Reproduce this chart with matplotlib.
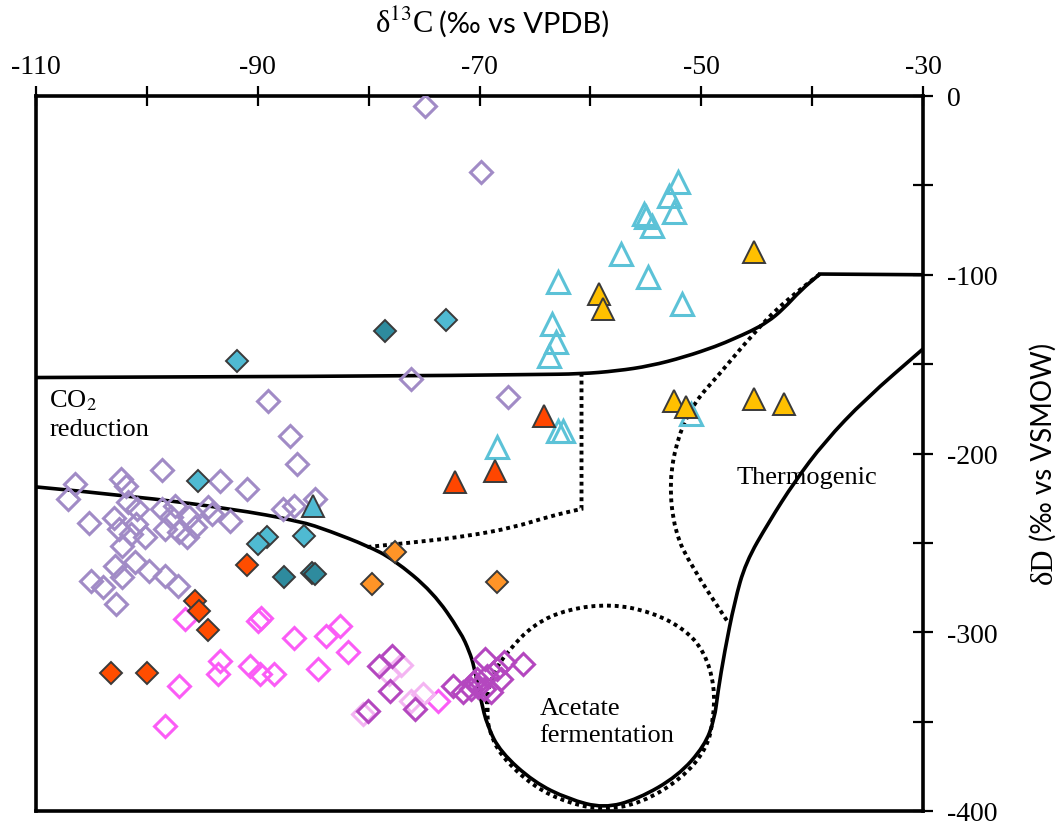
import matplotlib.pyplot as plt
from matplotlib.path import Path
from matplotlib.patches import PathPatch

plt.rcParams['font.family'] = ['Liberation Serif', 'DejaVu Serif']
plt.rcParams['mathtext.fontset'] = 'stix'

# ---- field boundaries (d13C, dD) ----
top_x = [-110, -80, -65, -60.9, -57.6, -54.6, -51.5, -48.6, -47.1, -45.5, -44.0, -42.6, -41.0, -39.3]
top_y = [-157.5, -156.8, -155.8, -155.5, -153.8, -151.0, -146.0, -139.9, -135.9, -131.5, -126.4, -119.2, -108.5, -99.6]
shelf_x = [-39.3, -30]
shelf_y = [-99.6, -100]

low_x = [-110, -101.3, -92.3, -86.2, -83.5, -80.1, -77.8, -74.2, -71.7, -70.9, -70.5, -69.9, -69.3,
         -68.1, -65.1, -62.0, -58.8, -55.7, -52.1, -49.7, -48.8, -48.5, -47.9, -47.0, -46.0, -43.9, -41.6,
         -38.9, -35.2, -30]
low_y = [-218.7, -223.8, -231.0, -237.8, -243.4, -251.7, -259.0, -277.5, -299.9, -311.0, -318.9, -337.3, -352.4,
         -367.0, -383.8, -393.3, -398.5, -393.3, -380.4, -363.6, -348.5, -333.4, -311.0, -283.1, -261.0, -238.3, -215.9,
         -193.6, -169.5, -141.5]

co2_dot_x = [-80.1, -75.5, -71.1, -67.0, -63.6, -60.8, -60.8, -60.8]
co2_dot_y = [-252.3, -249.5, -246.2, -241.5, -235.0, -231.0, -231.0, -155.5]

acet_dot_x = [-69.3, -69.3, -68.7, -67.5, -65.1, -62.0, -58.1, -54.5, -51.5, -49.7, -48.8, -48.9, -49.5, -51.8,
              -55.4, -58.8, -62.0, -65.1, -68.1, -69.2, -69.3, -69.3]
acet_dot_y = [-344.6, -333.4, -322.2, -311.0, -295.4, -287.0, -284.2, -288.7, -298.2, -311.0, -330.1, -348.5, -365.3, -382.1,
              -395.5, -399.5, -395.5, -386.5, -369.2, -354.1, -344.6, -333.4]

thermo_dot_x = [-39.3, -42.6, -45.5, -48.5, -50.6, -52.1, -52.9, -52.4, -50.9, -47.6]
thermo_dot_y = [-99.6, -115.2, -134.3, -156.6, -171.2, -190.2, -215.9, -243.9, -262.9, -294.3]

# ---- samples ----
lav_x = [-74.9, -69.9, -76.2, -89.1, -67.4, -87.1, -86.5, -106.5, -107.1, -102.3, -101.9, -98.6, -93.4, -91.0,
         -101.7, -100.9, -105.2, -103.0, -102.5, -101.0, -101.4, -100.2, -102.2, -98.6, -97.5, -97.8, -98.4, -97.1,
         -96.2, -95.7, -96.4, -94.5, -94.1, -92.5, -102.9, -101.1, -102.2, -99.8, -98.4, -97.2, -105.0, -104.0,
         -102.8, -87.7, -86.7, -84.8]
lav_y = [-5.6, -42.5, -158.3, -170.6, -168.4, -190.2, -205.9, -217.1, -225.5, -214.3, -218.2, -209.2, -215.4, -219.9,
         -227.1, -231.0, -238.9, -236.1, -242.2, -239.4, -245.0, -246.7, -251.7, -231.0, -229.4, -235.5, -242.2, -243.9,
         -235.5, -241.1, -246.7, -229.9, -233.8, -237.8, -262.9, -260.7, -269.1, -265.7, -268.5, -274.1, -271.3, -274.7,
         -284.2, -231.0, -229.4, -225.5]

mag_x = [-96.6, -93.4, -93.6, -97.1, -98.4, -90.0, -89.7, -90.7, -89.8, -88.5, -86.7, -84.6, -83.8, -82.6, -81.9, -73.7]
mag_y = [-292.6, -316.1, -323.4, -330.1, -352.4, -293.7, -292.0, -318.9, -323.4, -323.4, -303.2, -320.6, -302.1, -296.5, -311.0, -338.5]

orchid_x = [-79.1, -77.9, -78.1, -80.1, -75.8, -72.4, -71.5, -70.5, -70.2, -69.5, -69.3, -68.4, -69.0, -68.1,
            -69.6, -66.1, -67.8, -70.1, -70.8]
orchid_y = [-318.9, -313.3, -332.9, -344.1, -343.0, -330.1, -333.4, -327.8, -326.2, -315.0, -324.5, -320.6, -333.4, -326.2,
            -331.7, -317.8, -316.6, -330.6, -331.7]

pink_x = [-77.1, -78.2, -80.5, -76.2, -75.1]
pink_y = [-318.3, -323.4, -345.7, -338.5, -334.6]

teal_x = [-91.9, -73.0, -95.4, -89.2, -90.0, -85.8]
teal_y = [-148.3, -125.3, -215.4, -246.7, -250.6, -246.2]

dteal_x = [-78.5, -87.6, -85.1, -84.8]
dteal_y = [-131.5, -269.1, -266.9, -267.4]

red_d_x = [-91.0, -95.7, -95.3, -94.5, -103.2, -100.0]
red_d_y = [-262.4, -282.5, -288.1, -298.7, -322.8, -322.8]

orange_x = [-77.6, -79.7, -68.4]
orange_y = [-255.1, -273.0, -271.9]

cyan_x = [-52.1, -52.9, -52.5, -55.2, -55.0, -54.4, -57.2, -54.8, -62.9, -51.7, -63.5, -63.1, -63.7, -62.9, -62.5,
          -50.9, -68.4]
cyan_y = [-48.1, -55.9, -64.9, -66.0, -67.7, -72.7, -88.4, -101.3, -104.1, -116.4, -127.6, -137.6, -145.5, -187.4, -187.4,
          -177.9, -196.4]

gold_x = [-45.2, -59.2, -58.9, -52.5, -51.4, -45.2, -42.5]
gold_y = [-87.3, -110.8, -119.2, -170.6, -174.0, -169.5, -172.3]

red_t_x = [-64.2, -72.2, -68.6]
red_t_y = [-179.0, -215.9, -209.8]

teal_t_x = [-85.0]
teal_t_y = [-229.4]

xticks = list(range(-110, -29, 10))
xtick_labels = ['-110', '', '-90', '', '-70', '', '-50', '', '-30']
yticks = list(range(-400, 1, 50))
ytick_labels = ['-400', '', '-300', '', '-200', '', '-100', '', '0']

fig = plt.figure(figsize=(10.59, 8.29), dpi=100)
ax = fig.add_axes([36 / 1059, 17 / 829, 887 / 1059, 715 / 829])


def smooth_line(xs, ys, **kw):
    # quadratic bezier through the midpoints, read points act as control points
    pts = list(zip(xs, ys))
    verts = [pts[0]]
    codes = [Path.MOVETO]
    for i in range(1, len(pts) - 1):
        mid = ((pts[i][0] + pts[i + 1][0]) / 2, (pts[i][1] + pts[i + 1][1]) / 2)
        verts += [pts[i], mid]
        codes += [Path.CURVE3, Path.CURVE3]
    verts.append(pts[-1])
    codes.append(Path.LINETO)
    ax.add_patch(PathPatch(Path(verts, codes), fill=False, **kw))


solid = dict(edgecolor='black', lw=2.6, zorder=2)
dot = dict(edgecolor='black', lw=2.8, linestyle=(0, (1, 1)), capstyle='butt', zorder=2)
smooth_line(top_x, top_y, **solid)
ax.plot(shelf_x, shelf_y, color='black', lw=2.6, zorder=2)
smooth_line(low_x, low_y, **solid)
smooth_line(co2_dot_x, co2_dot_y, **dot)
smooth_line(acet_dot_x, acet_dot_y, **dot)
smooth_line(thermo_dot_x, thermo_dot_y, **dot)


def open_pts(x, y, marker, color, ms, z=3):
    ax.plot(x, y, linestyle='none', marker=marker, ms=ms, mfc='none', mec=color, mew=2.2, zorder=z)


def filled_pts(x, y, marker, color, ms, z=4):
    ax.plot(x, y, linestyle='none', marker=marker, ms=ms, mfc=color, mec='#3a3a3a', mew=1.4, zorder=z)


open_pts(lav_x, lav_y, 'D', '#a18bc6', 11.5)
open_pts(mag_x, mag_y, 'D', '#fb5cf6', 11.5)
open_pts(pink_x, pink_y, 'D', '#f4b4f2', 11.5)
open_pts(orchid_x, orchid_y, 'D', '#b447bf', 11.5)
filled_pts(teal_x, teal_y, 'D', '#4fbad2', 11.5)
filled_pts(dteal_x, dteal_y, 'D', '#2e8b9e', 11.5)
filled_pts(red_d_x, red_d_y, 'D', '#ff4d00', 11.5)
filled_pts(orange_x, orange_y, 'D', '#ff9427', 11.5)
open_pts(cyan_x, cyan_y, '^', '#5cc2d7', 16)
filled_pts(gold_x, gold_y, '^', '#ffc000', 15.5)
filled_pts(red_t_x, red_t_y, '^', '#ff4600', 15.5)
filled_pts(teal_t_x, teal_t_y, '^', '#4fbad2', 15.5)

# region labels
ax.text(-108.8, -163, 'CO$_2$\nreduction', fontsize=19, va='top', ha='left', linespacing=1.35)
ax.text(-46.8, -213, 'Thermogenic', fontsize=19, va='center', ha='left')
ax.text(-64.6, -350, 'Acetate\nfermentation', fontsize=19, va='center', ha='left', linespacing=1.3)

ax.set_xlim(-110, -30)
ax.set_ylim(-400, 0)
ax.set_xticks(xticks)
ax.set_xticklabels(xtick_labels)
ax.set_yticks(yticks)
ax.set_yticklabels(ytick_labels)
ax.tick_params(axis='x', top=True, bottom=False, labeltop=True, labelbottom=False,
               direction='inout', length=14, width=1.6, pad=5, labelsize=20)
ax.tick_params(axis='y', right=True, left=False, labelright=True, labelleft=False,
               direction='inout', length=14, width=1.6, pad=10, labelsize=20)
for s in ax.spines.values():
    s.set_linewidth(2.6)

# axis titles: serif symbol + sans unit
fig.text(433 / 1059, 1 - 33 / 829, 'δ$^{13}$C', fontsize=22, ha='right', va='baseline')
fig.text(439 / 1059, 1 - 33 / 829, '(‰ vs VPDB)', fontsize=21, ha='left', va='baseline',
         family=['Lato', 'DejaVu Sans'])
fig.text(1052 / 1059, 1 - 547 / 829, 'δD', fontsize=22, ha='right', va='baseline',
         rotation=90, rotation_mode='anchor')
fig.text(1052 / 1059, 1 - 541 / 829, '(‰ vs VSMOW)', fontsize=20, ha='left', va='baseline',
         rotation=90, rotation_mode='anchor', family=['Lato', 'DejaVu Sans'])

fig.savefig('out.png', dpi=100)
